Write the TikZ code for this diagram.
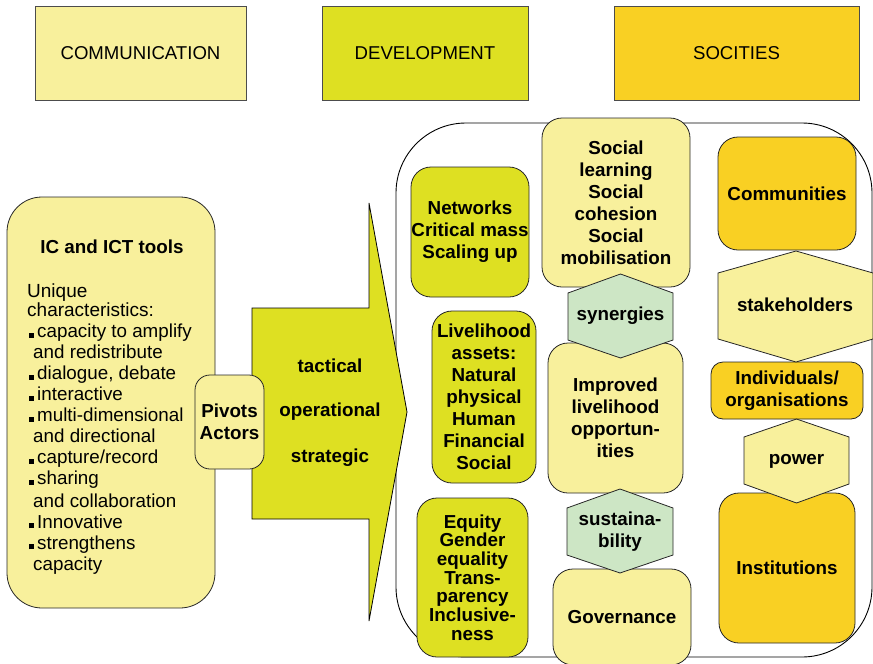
\documentclass[tikz,border=0pt]{standalone}
\usepackage{fontspec}
\setmainfont{Liberation Sans}
\definecolor{commfill}{HTML}{F8F09C}
\definecolor{devfill}{HTML}{DEE022}
\definecolor{socfill}{HTML}{F9D023}
\definecolor{synfill}{HTML}{CDE6C5}
\newcommand{\itm}{\rule{5pt}{5pt}\hspace{3pt}}

\tikzset{
  headbox/.style={draw=black!70, line width=0.8pt, inner sep=0pt,
    font=\fontsize{18.6}{22}\selectfont},
  box/.style={draw=black!85, line width=0.8pt, rounded corners=20pt,
    inner sep=0pt, align=center, font=\bfseries\fontsize{18.8}{22}\selectfont},
  hexa/.style={draw=black!85, line width=0.8pt},
  lbl/.style={inner sep=0pt, align=center,
    font=\bfseries\fontsize{18.8}{22}\selectfont}
}

\begin{document}
\begin{tikzpicture}[x=1pt, y=-1pt]
  \useasboundingbox (0,0) rectangle (873,664);

  % column headings
  \node[headbox, fill=commfill, minimum width=211pt, minimum height=94pt]
    (comm) at (140.5,53) {COMMUNICATION};
  \node[headbox, fill=devfill, minimum width=206pt, minimum height=94pt]
    (dev) at (425,53) {DEVELOPMENT};
  \node[headbox, fill=socfill, minimum width=245pt, minimum height=94pt]
    (soc) at (736.5,53) {SOCITIES};

  % big frame round the right hand part
  \draw[line width=0.9pt, rounded corners=70pt] (396,123) rectangle (872,657);

  % communication side
  \node[box, fill=commfill, rounded corners=35pt,
    minimum width=208pt, minimum height=411pt] (ict) at (111,402.5) {};
  \node[lbl] (icttitle) at (112,247) {IC and ICT tools};
  \node[inner sep=0pt, anchor=north west, align=left,
    font=\fontsize{19}{17}\selectfont] (uniq) at (27,284)
    {Unique\\characteristics:};
  \node[inner sep=0pt, anchor=north west, align=left,
    font=\fontsize{18.8}{21}\selectfont] (feat) at (29,324)
    {\itm capacity to amplify\\
     \hspace*{4pt}and redistribute\\
     \itm dialogue, debate\\
     \itm interactive\\
     \itm multi-dimensional\\
     \hspace*{4pt}and directional\\
     \itm capture/record\\
     \itm sharing\\[1.5pt]
     \hspace*{4pt}and collaboration\\
     \itm Innovative\\
     \itm strengthens\\
     \hspace*{4pt}capacity};

  % the big arrow
  \draw[line width=0.8pt, fill=devfill] (252,308) -- (369,308) -- (369,203)
    -- (407,412) -- (369,621) -- (369,519) -- (252,519) -- cycle;
  \node[lbl] (tact) at (330,366) {tactical};
  \node[lbl] (oper) at (330,412) {operational};
  \node[lbl] (strat) at (330,458) {strategic};

  \node[box, fill=commfill, rounded corners=15pt,
    minimum width=69pt, minimum height=94pt] (pivots) at (229.5,422)
    {Pivots\\Actors};

  % development column
  \node[box, fill=devfill, minimum width=118pt, minimum height=130pt]
    (netw) at (470,232) {Networks\\Critical mass\\Scaling up};
  \node[box, fill=devfill, minimum width=104pt, minimum height=172pt]
    (assets) at (484,397)
    {Livelihood\\assets:\\Natural\\physical\\Human\\Financial\\Social};
  \node[box, fill=devfill, minimum width=111pt, minimum height=159pt,
    font=\bfseries\fontsize{18.8}{18.7}\selectfont]
    (equity) at (472.5,577.5)
    {Equity\\Gender\\equality\\Trans-\\parency\\Inclusive-\\ness};

  % middle column
  \node[box, fill=commfill, minimum width=148pt, minimum height=169pt]
    (social) at (616,202.5)
    {Social\\learning\\Social\\cohesion\\Social\\mobilisation};
  \node[box, fill=commfill, minimum width=135pt, minimum height=150pt]
    (improved) at (615.5,418)
    {Improved\\livelihood\\opportun-\\ities};
  \node[box, fill=commfill, minimum width=138pt, minimum height=96pt]
    (govern) at (622,617) {Governance};

  % societies column
  \node[box, fill=socfill, minimum width=138pt, minimum height=113pt]
    (commun) at (787,193.5) {Communities};
  \node[box, fill=socfill, rounded corners=12pt,
    minimum width=152pt, minimum height=57pt] (indiv) at (787,390.5)
    {Individuals/\\organisations};
  \node[box, fill=socfill, minimum width=136pt, minimum height=150pt]
    (instit) at (787,568) {Institutions};

  % hexagons between the boxes
  \draw[hexa, fill=synfill] (620.5,274) -- (673,293) -- (673,340)
    -- (620.5,358) -- (568,340) -- (568,293) -- cycle;
  \draw[hexa, fill=synfill] (620,489) -- (673,508) -- (673,555)
    -- (620,573) -- (567,555) -- (567,508) -- cycle;
  \draw[hexa, fill=commfill] (796,251) -- (873,273) -- (873,339)
    -- (796,362) -- (718,339) -- (718,273) -- cycle;
  \draw[hexa, fill=commfill] (796.5,419) -- (849,437) -- (849,484)
    -- (796.5,503) -- (744,484) -- (744,437) -- cycle;
  \node[lbl] (syn) at (620.5,316) {synergies};
  \node[lbl] (sust) at (620,532) {sustaina-\\bility};
  \node[lbl] (stake) at (795,305) {stakeholders};
  \node[lbl] (power) at (796.5,461) {power};
\end{tikzpicture}
\end{document}
